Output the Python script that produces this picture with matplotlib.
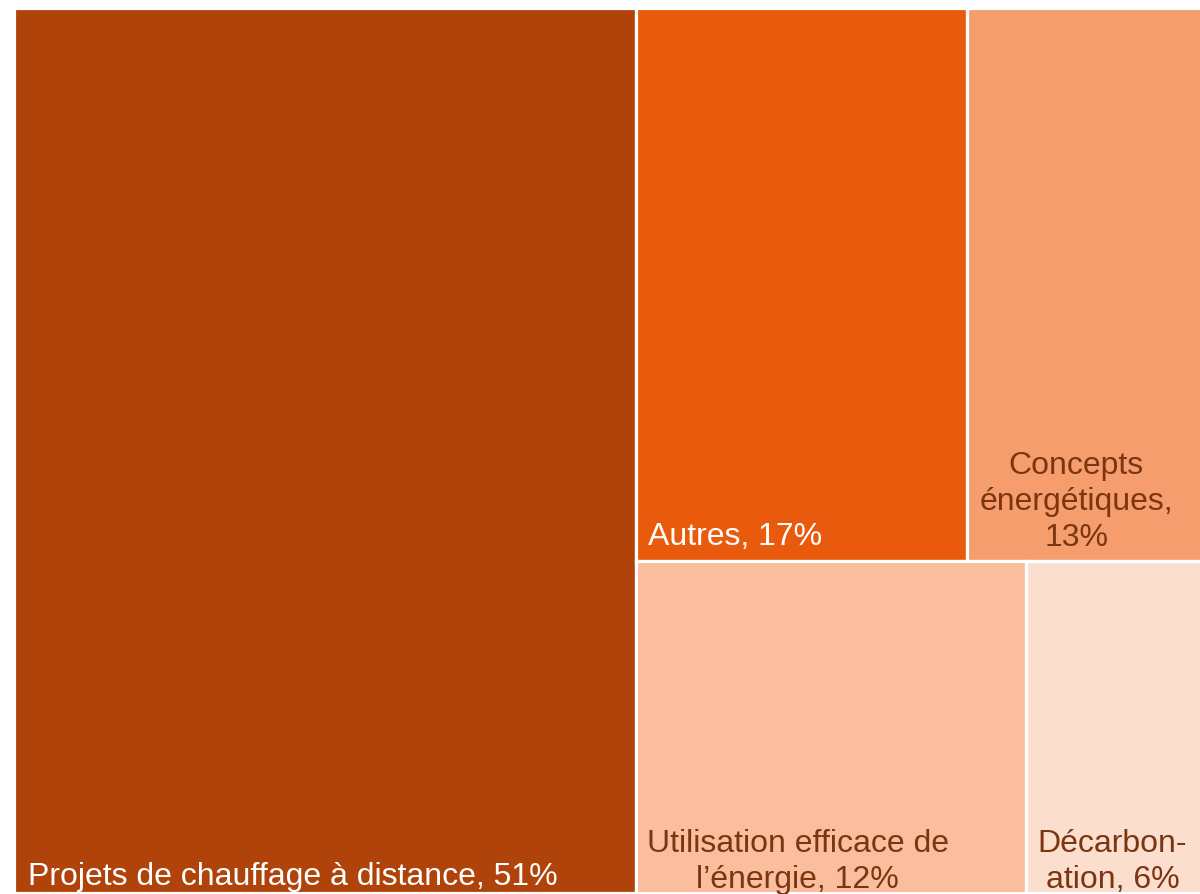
import matplotlib.pyplot as plt
from matplotlib.patches import Rectangle

plt.rcParams['font.family'] = ['Liberation Sans', 'DejaVu Sans']

labels = ["Projets de chauffage à distance, 51%", "Autres, 17%",
          "Concepts\nénergétiques,\n13%", "Utilisation efficace de\nl’énergie, 12%",
          "Décarbon-\nation, 6%"]
values = [51, 17, 13, 12, 6]
colors = ["#B0430A", "#E95A0C", "#F69D6E", "#FABD9D", "#FBDECE"]
text_colors = ["white", "white", "#7B3510", "#7B3510", "#7B3510"]


def layout(vals, W, H):
    """big block on the left, two rows of two on the right"""
    total = float(sum(vals))
    w0 = W * vals[0] / total
    rects = [(0, 0, w0, H)]
    rw = W - w0
    top = vals[1] + vals[2]
    bot = vals[3] + vals[4]
    ht = H * top / (top + bot)
    hb = H - ht
    w1 = rw * vals[1] / top
    rects.append((w0, hb, w1, ht))
    rects.append((w0 + w1, hb, rw - w1, ht))
    w3 = rw * vals[3] / bot
    rects.append((w0, 0, w3, hb))
    rects.append((w0 + w3, 0, rw - w3, hb))
    return rects


fig = plt.figure(figsize=(12, 8.94), dpi=100)
ax = fig.add_axes([14 / 1200, 1 / 894, 1207 / 1200, 885 / 894])
W, H = 1.0, 1.0
ax.set_xlim(0, W)
ax.set_ylim(0, H)
ax.axis('off')

rects = layout(values, W, H)
# (anchor, dx, dy, ha) offsets in pixels for the labels
spots = [("left", 14, 1, "left"), ("left", 12, 9, "left"),
         ("center", -18, 8, "center"), ("center", -33, -2, "center"),
         ("center", -11, -2, "center")]

for (x, y, w, h), lab, c, tc, (anc, dx, dy, ha) in zip(rects, labels, colors, text_colors, spots):
    ax.add_patch(Rectangle((x, y), w, h, facecolor=c, edgecolor="white", linewidth=2.3))
    px = x if anc == "left" else x + w / 2
    ax.annotate(lab, (px, y), xytext=(dx, dy), textcoords="offset pixels",
                ha=ha, va="bottom", ma="center", fontsize=23, color=tc,
                linespacing=1.26)

fig.savefig("out.png", dpi=100)
